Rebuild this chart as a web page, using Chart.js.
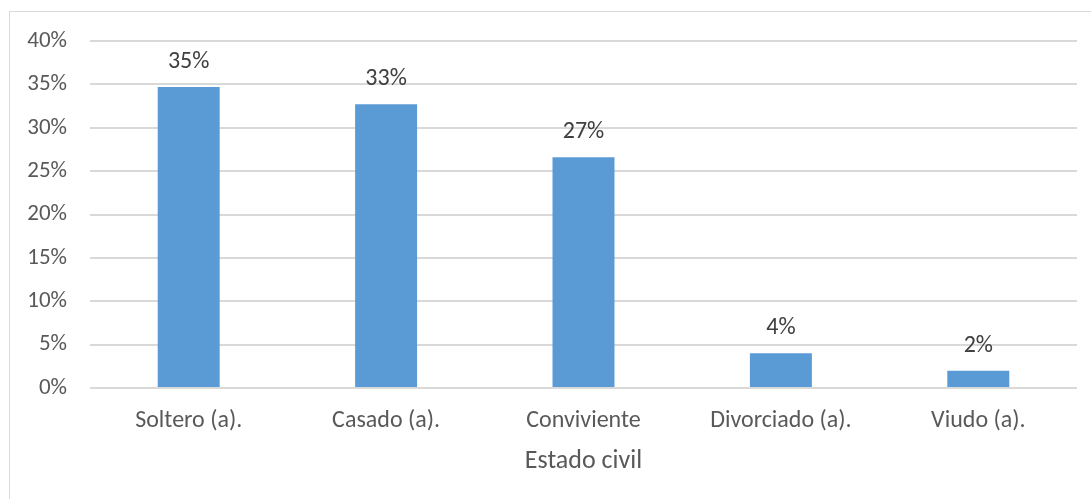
<!DOCTYPE html>
<html>
<head>
<meta charset="utf-8">
<script src="https://cdn.jsdelivr.net/npm/chart.js@4.4.1/dist/chart.umd.min.js"></script>
<style>
  html, body { margin: 0; padding: 0; background: #ffffff; }
  #wrap { position: relative; width: 1091px; height: 499px; overflow: hidden; }
  #frame { position: absolute; left: 9px; top: 11px; width: 1200px; height: 600px;
           border-left: 1px solid #d9d9d9; border-top: 1px solid #d9d9d9; box-sizing: border-box; }
  canvas { position: absolute; left: 0; top: 0; }
</style>
</head>
<body>
<div id="wrap">
  <div id="frame"></div>
  <canvas id="c" width="1091" height="499"></canvas>
</div>
<script>
// Estado civil: share of respondents (%)
const categories = ['Soltero (a).', 'Casado (a).', 'Conviviente', 'Divorciado (a).', 'Viudo (a).'];
const shares = [34.7, 32.7, 26.6, 4.0, 2.0];
const yTicks = [0, 5, 10, 15, 20, 25, 30, 35, 40];
const axisTitle = 'Estado civil';

const FONT = 'Carlito, "Open Sans", sans-serif';
const TEXT = '#595959';

// Value labels above each bar
const valueLabels = {
  id: 'valueLabels',
  afterDatasetsDraw(chart) {
    const ctx = chart.ctx;
    const meta = chart.getDatasetMeta(0);
    ctx.save();
    ctx.font = '24px ' + FONT;
    ctx.fillStyle = '#404040';
    ctx.textAlign = 'center';
    ctx.textBaseline = 'middle';
    meta.data.forEach((bar, i) => {
      const v = chart.data.datasets[0].data[i];
      ctx.fillText(Math.round(v) + '%', bar.x, bar.y - 25);
    });
    ctx.restore();
  }
};

new Chart(document.getElementById('c'), {
  type: 'bar',
  data: {
    labels: categories,
    datasets: [{
      data: shares,
      backgroundColor: '#5b9bd5',
      borderWidth: 0,
      categoryPercentage: 1,
      barPercentage: 0.314
    }]
  },
  options: {
    responsive: false,
    animation: false,
    layout: { padding: { left: 0, right: 14, top: 41, bottom: 0 } },
    plugins: { legend: { display: false }, tooltip: { enabled: false } },
    scales: {
      x: {
        grid: { display: false, drawTicks: false },
        border: { display: false },
        ticks: { color: TEXT, font: { family: FONT, size: 24 }, padding: 19, maxRotation: 0 },
        title: { display: true, text: axisTitle, color: TEXT,
                 font: { family: FONT, size: 26 }, padding: { top: 0, bottom: 22 } },
        afterFit(scale) { scale.height = 111; }
      },
      y: {
        min: 0, max: 40,
        afterBuildTicks(scale) { scale.ticks = yTicks.map(v => ({ value: v })); },
        grid: { color: '#d9d9d9', lineWidth: 2, drawTicks: false },
        border: { display: false },
        ticks: { color: TEXT, font: { family: FONT, size: 23 }, padding: 23,
                 callback: v => v + '%' },
        afterFit(scale) { scale.width = 90; }
      }
    }
  },
  plugins: [valueLabels]
});
</script>
</body>
</html>
